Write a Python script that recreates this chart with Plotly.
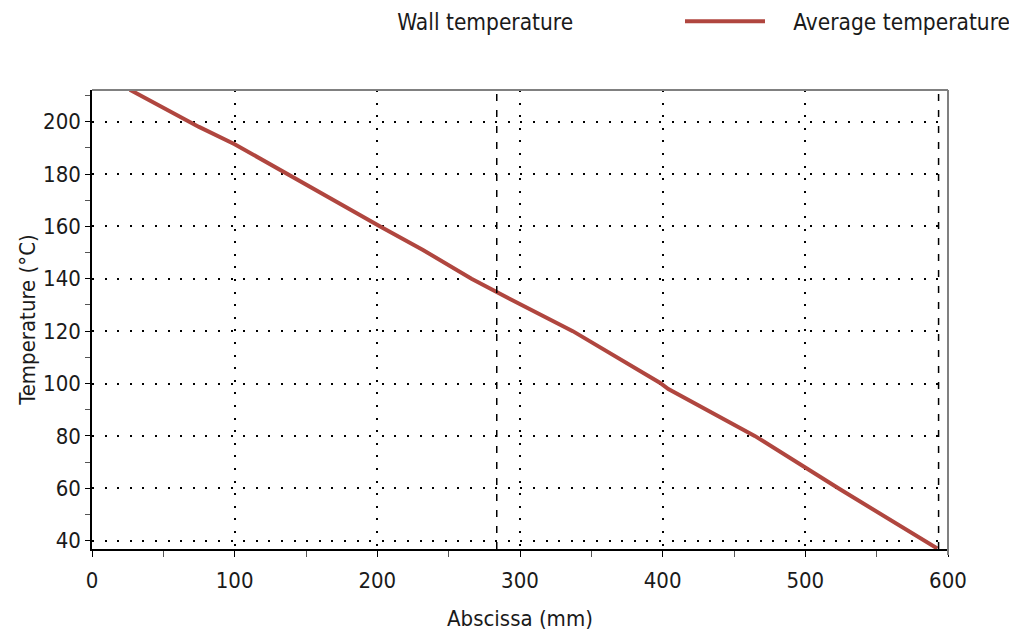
import plotly.graph_objects as go

# Average temperature along abscissa
abscissa_mm = [26.5, 75, 100, 146, 202, 232, 266, 294, 337, 398, 404, 464.5, 524, 592.5]
avg_temp_c = [212.2, 198.0, 191.4, 177.1, 160.0, 151.0, 140.0, 132.0, 120.0, 100.3, 97.9, 80.0, 59.7, 37.0]

# Vertical dashed markers (mm)
marker_x_mm = [283.7, 593.4]

x_range = [0, 600]
y_range = [36.8, 212.1]
x_ticks = [0, 100, 200, 300, 400, 500, 600]
y_ticks = [40, 60, 80, 100, 120, 140, 160, 180, 200]

FONT = "DejaVu Sans Condensed, DejaVu Sans, sans-serif"
TXT = "#1a1a1a"
RED = "#B0463F"
GAP = "\u00a0" * 3 + "\u2009"

fig = go.Figure()
fig.add_trace(go.Scatter(x=[None], y=[None], mode="lines", name=GAP + "Wall temperature",
                         line=dict(color="rgba(0,0,0,0)", width=4), legend="legend"))
fig.add_trace(go.Scatter(x=abscissa_mm, y=avg_temp_c, mode="lines", name=GAP + "Average temperature",
                         line=dict(color=RED, width=4), legend="legend2"))

for xv in marker_x_mm:
    fig.add_vline(x=xv, line=dict(color="black", width=1.5, dash="7px,9px"), layer="above")

leg_common = dict(orientation="h", yanchor="middle", y=0.9785, xanchor="left",
                  yref="container", xref="container", font=dict(size=22.5),
                  itemwidth=80, bgcolor="rgba(0,0,0,0)")

grid_dash = "2px,10.6px"
fig.update_layout(
    width=1009, height=628,
    margin=dict(l=84, r=69, t=82, b=87),
    paper_bgcolor="white", plot_bgcolor="white",
    font=dict(family=FONT, size=22, color=TXT),
    showlegend=True,
    legend=dict(x=0.2735, **leg_common),
    legend2=dict(x=0.666, **leg_common),
    xaxis=dict(range=x_range, tickvals=x_ticks, showgrid=True, gridcolor="black", gridwidth=2,
               griddash=grid_dash, zeroline=False, showline=True, linecolor="black", linewidth=1.5,
               ticks="outside", ticklen=6, tickcolor="black", tickwidth=1.2, automargin=False,
               ticklabelstandoff=5,
               minor=dict(dtick=50, ticks="outside", ticklen=6, tickcolor="#555", showgrid=False),
               title=dict(text="Abscissa (mm)", standoff=18, font=dict(size=22)), tickfont=dict(size=22)),
    yaxis=dict(range=y_range, tickvals=y_ticks, showgrid=True, gridcolor="black", gridwidth=2,
               griddash=grid_dash, zeroline=False, showline=True, linecolor="black", linewidth=1.5,
               ticks="outside", ticklen=5, tickcolor="black", tickwidth=1.2, automargin=False,
               minor=dict(dtick=10, tick0=0, ticks="outside", ticklen=5, tickcolor="#555", showgrid=False),
               title=dict(text="Temperature (°C)", standoff=1, font=dict(size=22)), tickfont=dict(size=22)),
    xaxis2=dict(overlaying="x", range=x_range, tickvals=x_ticks, showgrid=False, zeroline=False,
                showticklabels=False, ticks="inside", ticklen=5, tickcolor="black", tickwidth=1.2,
                automargin=False,
                minor=dict(dtick=50, ticks="inside", ticklen=5, tickcolor="#555")),
    yaxis2=dict(overlaying="y", range=y_range, tickvals=y_ticks, showgrid=False, zeroline=False,
                showticklabels=False, ticks="inside", ticklen=6, tickcolor="black", tickwidth=1.2,
                automargin=False,
                minor=dict(dtick=10, tick0=0, ticks="inside", ticklen=6, tickcolor="#555")),
)
# top and right frame lines (gray)
fig.add_shape(type="line", xref="paper", yref="paper", x0=0, x1=1, y0=1, y1=1,
              line=dict(color="#808080", width=2))
fig.add_shape(type="line", xref="paper", yref="paper", x0=1, x1=1, y0=-0.013, y1=1,
              line=dict(color="#808080", width=2))

fig.write_html("out.html")
